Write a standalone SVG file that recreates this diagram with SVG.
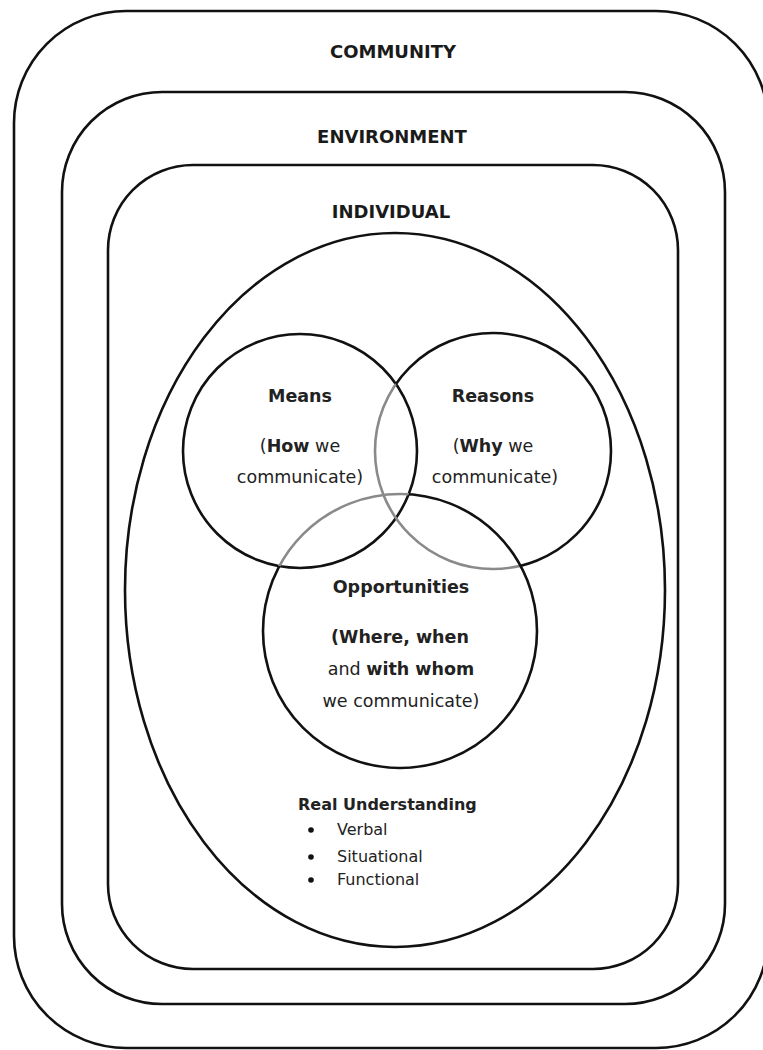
<svg xmlns="http://www.w3.org/2000/svg" width="763" height="1050" viewBox="0 0 763 1050">
  <style>
    .frame { fill: none; stroke: #111; stroke-width: 2.6; }
    .ring { fill: none; stroke: #111; stroke-width: 2.6; }
    .grey { fill: none; stroke: #8a8a8a; stroke-width: 2.6; }
    .lvl { font-family: "DejaVu Sans", "Liberation Sans", sans-serif; font-weight: bold; font-size: 18px; fill: #1a1a1a; text-anchor: middle; }
    .lbl { font-family: "DejaVu Sans", "Liberation Sans", sans-serif; font-size: 17.5px; fill: #222; text-anchor: middle; }
    .b { font-weight: bold; }
    .lst { font-family: "DejaVu Sans", "Liberation Sans", sans-serif; font-size: 16px; fill: #222; }
  </style>
  <defs>
    <clipPath id="inMeansOrOpp">
      <circle cx="300" cy="451" r="117"/>
      <circle cx="400" cy="631" r="137"/>
    </clipPath>
    <clipPath id="inMeans">
      <circle cx="300" cy="451" r="117"/>
    </clipPath>
    <mask id="outMeansOrOpp" maskUnits="userSpaceOnUse" x="0" y="0" width="763" height="1050">
      <rect x="0" y="0" width="763" height="1050" fill="#fff"/>
      <circle cx="300" cy="451" r="117" fill="#000"/>
      <circle cx="400" cy="631" r="137" fill="#000"/>
    </mask>
    <mask id="outMeans" maskUnits="userSpaceOnUse" x="0" y="0" width="763" height="1050">
      <rect x="0" y="0" width="763" height="1050" fill="#fff"/>
      <circle cx="300" cy="451" r="117" fill="#000"/>
    </mask>
  </defs>
  <rect width="763" height="1050" fill="#fff"/>

  <g id="community">
    <rect class="frame" x="14" y="11" width="754" height="1037" rx="112" ry="112"/>
    <text class="lvl" x="393" y="58">COMMUNITY</text>
  </g>
  <g id="environment">
    <rect class="frame" x="62" y="92" width="663" height="912" rx="100" ry="100"/>
    <text class="lvl" x="392" y="143">ENVIRONMENT</text>
  </g>
  <g id="individual">
    <rect class="frame" x="108" y="165" width="570" height="804" rx="85" ry="85"/>
    <text class="lvl" x="391" y="218">INDIVIDUAL</text>
  </g>
  <g id="real-understanding">
    <ellipse class="ring" cx="395" cy="590" rx="270" ry="357"/>
    <text class="lst b" x="298" y="810" font-size="16.5">Real Understanding</text>
    <circle cx="311" cy="830" r="2.8" fill="#111"/>
    <circle cx="311" cy="857" r="2.8" fill="#111"/>
    <circle cx="311" cy="880" r="2.8" fill="#111"/>
    <text class="lst" x="337" y="835">Verbal</text>
    <text class="lst" x="337" y="862">Situational</text>
    <text class="lst" x="337" y="885">Functional</text>
  </g>
  <g id="means">
    <circle class="ring" cx="300" cy="451" r="117"/>
    <text class="lbl b" x="300" y="402" font-size="16">Means</text>
    <text class="lbl" x="300" y="452">(<tspan class="b">How</tspan> we</text>
    <text class="lbl" x="300" y="483">communicate)</text>
  </g>
  <g id="reasons">
    <circle class="ring" cx="493" cy="451" r="118" mask="url(#outMeansOrOpp)"/>
    <circle class="grey" cx="493" cy="451" r="118" clip-path="url(#inMeansOrOpp)"/>
    <text class="lbl b" x="493" y="402" font-size="16">Reasons</text>
    <text class="lbl" x="493" y="452">(<tspan class="b">Why</tspan> we</text>
    <text class="lbl" x="495" y="483">communicate)</text>
  </g>
  <g id="opportunities">
    <circle class="ring" cx="400" cy="631" r="137" mask="url(#outMeans)"/>
    <circle class="grey" cx="400" cy="631" r="137" clip-path="url(#inMeans)"/>
    <text class="lbl b" x="401" y="593" font-size="14.5">Opportunities</text>
    <text class="lbl" x="400" y="643"><tspan class="b">(Where, when</tspan></text>
    <text class="lbl" x="401" y="675">and <tspan class="b">with whom</tspan></text>
    <text class="lbl" x="401" y="707">we communicate)</text>
  </g>
  <g id="connectors"></g>
</svg>
